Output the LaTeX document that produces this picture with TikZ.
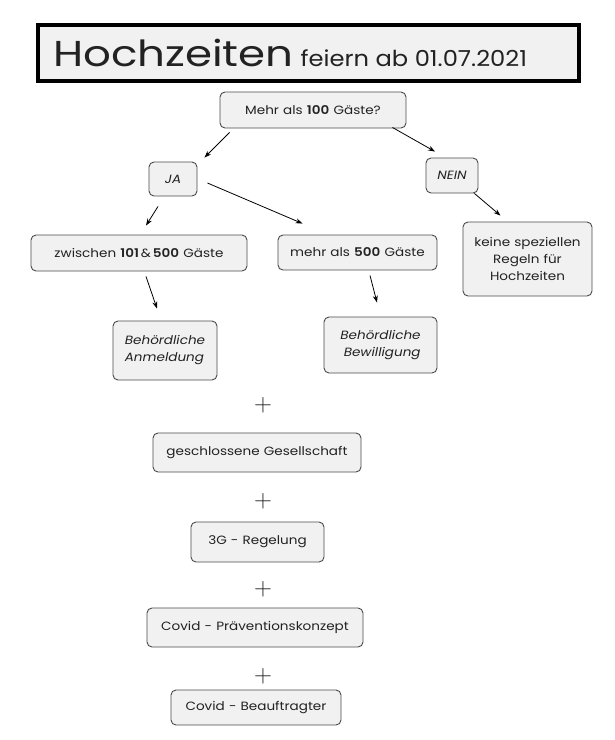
\documentclass[tikz,border=0pt]{standalone}
\usepackage{fontspec}
\setmainfont{Poppins}[FakeStretch=1.13, WordSpace=1.15, BoldFont={Poppins SemiBold}, BoldItalicFont={Poppins SemiBold Italic}]
\newfontfamily\titlefont{Poppins}[FakeStretch=1.21]
\newfontfamily\subtitlefont{Poppins}[FakeStretch=1.1]
\usetikzlibrary{calc,arrows.meta}
\definecolor{boxfill}{HTML}{F1F1F1}
\definecolor{boxline}{HTML}{4A4A4A}
\definecolor{txt}{HTML}{222222}
\tikzset{
  box/.style={draw=boxline, line width=0.9pt, fill=boxfill, rounded corners=5pt,
    inner sep=0pt, text=txt, align=center, font=\fontsize{12}{17}\selectfont},
  titlebox/.style={draw=black, line width=4pt, fill=boxfill, inner xsep=15pt, inner ysep=0pt,
    text=txt, align=left},
  arr/.style={-{Stealth[length=7pt,width=5pt]}, line width=0.8pt, black},
  plus/.style={inner sep=0pt, font=\fontsize{26}{26}\selectfont, text=txt}
}
\begin{document}
\begin{tikzpicture}[x=1pt,y=-1pt]
\useasboundingbox (0,0) rectangle (615,740);
\node[titlebox, text width=511pt, minimum height=56pt] (title) at (308.5,53)
  {{\titlefont\fontsize{36}{36}\selectfont Hochzeiten}\hspace{7pt}{\subtitlefont\fontsize{22}{22}\selectfont feiern\hspace{6.5pt}ab\hspace{6.5pt}01.07.2021}};

\node[box, minimum width=186pt, minimum height=36pt] (mehr) at (313,110) {Mehr als \textbf{100} Gäste?};
\node[box, minimum width=48pt, minimum height=34pt] (ja) at (173,179) {\itshape JA};
\node[box, minimum width=52pt, minimum height=35pt] (nein) at (452,175.5) {\itshape NEIN};
\node[box, minimum width=216pt, minimum height=36pt] (zw) at (139,253) {zwischen \textbf{101}\,\&\,\textbf{500} Gäste};
\node[box, minimum width=159pt, minimum height=35pt] (m500) at (357.5,252.5) {mehr als \textbf{500} Gäste};
\node[box, minimum width=129pt, minimum height=74pt] (keine) at (527.5,259) {keine speziellen\\Regeln für\\Hochzeiten};
\node[box, minimum width=104pt, minimum height=59pt, align=left] (anm) at (165,350.5) {\itshape Behördliche\\\itshape Anmeldung};
\node[box, minimum width=113pt, minimum height=56pt, align=right] (bew) at (380.5,345) {\itshape Behördliche\\\itshape Bewilligung};

\node[plus] (p1) at (263,405) {$+$};
\node[box, minimum width=208pt, minimum height=39pt] (gg) at (257,452.5) {geschlossene Gesellschaft};
\node[plus] (p2) at (263,501) {$+$};
\node[box, minimum width=133pt, minimum height=40pt] (g3) at (257.5,542) {3G - Regelung};
\node[plus] (p3) at (263,589) {$+$};
\node[box, minimum width=216pt, minimum height=39pt] (cp) at (255,627.5) {Covid - Präventionskonzept};
\node[plus] (p4) at (263,676) {$+$};
\node[box, minimum width=170pt, minimum height=35pt] (cb) at (256,707.5) {Covid - Beauftragter};

\draw[arr] ($(mehr.south west)+(10,4)$) -- ($(ja.north east)+(7,-4)$);
\draw[arr] ($(mehr.south east)+(-14,-1)$) -- ($(nein.north)+(-17,-6)$);
\draw[arr] ($(ja.east)+(10,4)$) -- ($(m500.north west)+(25,-11)$);
\draw[arr] ($(ja.south)+(-15,10)$) -- ($(zw.north)+(7,-9)$);
\draw[arr] ($(nein.south east)+(-4,0)$) -- ($(keine.north)+(-27,-6)$);
\draw[arr] ($(zw.south)+(7,5)$) -- ($(anm.north)+(-8,-12)$);
\draw[arr] ($(m500.south)+(12.5,5)$) -- ($(bew.north)+(-3.5,-14)$);
\end{tikzpicture}
\end{document}
